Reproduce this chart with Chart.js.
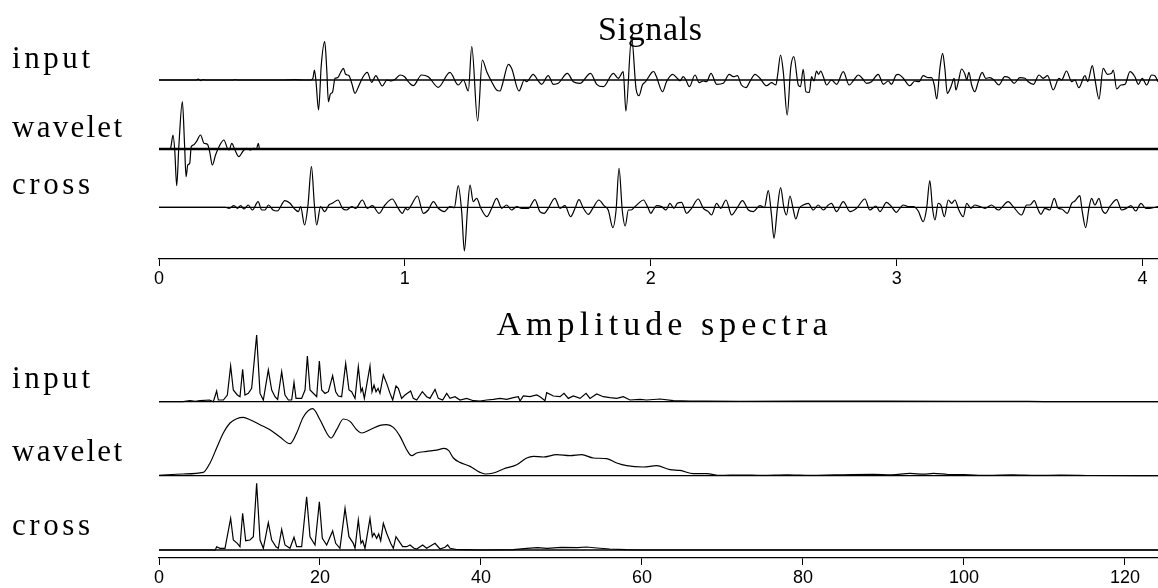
<!DOCTYPE html>
<html><head><meta charset="utf-8">
<script src="https://cdn.jsdelivr.net/npm/chart.js@4.4.1/dist/chart.umd.min.js"></script>
<style>
html,body{margin:0;padding:0;background:#fff;width:1158px;height:588px;overflow:hidden}
canvas{position:absolute;left:0}
#c1{top:0;width:1158px;height:300px}
#c2{top:300px;width:1158px;height:288px}
</style></head><body>
<canvas id="c1" width="1158" height="300"></canvas>
<canvas id="c2" width="1158" height="288"></canvas>
<script>
// ---------- DATA ----------
const traceNames = ['input', 'wavelet', 'cross'];
const panelTitles = ['Signals', 'Amplitude spectra'];
const signalTicks = [0, 1, 2, 3, 4];
const spectrumTicks = [0, 20, 40, 60, 80, 100, 120];
const timeMax = 4.063;
const freqMax = 124.1;

// time (s), amplitude
const signalInput = [[0,0],[0.15,0],[0.16,0.8],[0.17,-0.6],[0.18,0.5],[0.19,0],[0.3,0],[0.31,0.5],[0.32,0],[0.5,0],[0.55,0.4],[0.6,0],[0.617,0],[0.626,1.7],[0.632,10],[0.638,0],[0.649,-30],[0.660,15],[0.674,38.3],[0.682,11.7],[0.689,-21.7],[0.697,-14],[0.706,-12],[0.716,1.7],[0.727,2.3],[0.739,7.7],[0.750,11.7],[0.759,5.7],[0.773,4.3],[0.784,-3.3],[0.797,-13.3],[0.813,-5.7],[0.830,3.3],[0.847,7.7],[0.865,-2.3],[0.882,4.3],[0.895,-1],[0.908,-6],[0.927,0],[0.945,-1],[0.962,1],[0.981,5],[0.999,3.3],[1.014,-1.7],[1.034,-5.7],[1.068,5],[1.095,3.3],[1.136,-7.3],[1.183,7.7],[1.217,-5],[1.238,0],[1.258,-11],[1.272,33.3],[1.296,-41],[1.315,20],[1.333,8.3],[1.353,-1.7],[1.373,-10],[1.387,-11],[1.398,-3.3],[1.421,15.7],[1.434,11.7],[1.464,-11],[1.486,0],[1.495,-1.7],[1.522,5.7],[1.540,0],[1.556,-4.3],[1.583,4.3],[1.604,-4.3],[1.624,-3.3],[1.661,6.7],[1.685,-1.7],[1.712,-3.3],[1.755,6.7],[1.780,-4.3],[1.807,-6.7],[1.848,6.7],[1.868,1.7],[1.888,8.3],[1.899,-31],[1.922,43],[1.940,-8.3],[1.952,-15.7],[1.966,-5],[1.979,-1.7],[2.004,7.5],[2.012,8.5],[2.022,4],[2.048,-11.7],[2.064,-1.7],[2.089,5.7],[2.108,1.7],[2.119,-1],[2.132,3.3],[2.143,0],[2.157,-6.7],[2.180,5],[2.197,-2.7],[2.214,-1],[2.227,-1.7],[2.245,6.7],[2.268,-4.3],[2.295,-3.3],[2.319,5.7],[2.336,3.3],[2.352,4.3],[2.369,-5],[2.387,-7.7],[2.403,-1.7],[2.424,5.7],[2.444,1.7],[2.471,-5.7],[2.491,-2.7],[2.509,-5],[2.516,5],[2.528,25],[2.539,8.3],[2.555,-35],[2.569,11.7],[2.582,23.3],[2.600,-5],[2.609,-6.7],[2.620,10.7],[2.631,-11.7],[2.645,-12.3],[2.654,3.3],[2.664,-1],[2.674,9],[2.683,5.7],[2.691,9],[2.702,3.3],[2.715,-5],[2.735,0],[2.756,-4.3],[2.783,8.3],[2.807,-5],[2.826,0],[2.844,5],[2.860,1.7],[2.878,-3.3],[2.898,-1.7],[2.925,5.7],[2.946,-4.3],[2.966,-1],[2.979,-4.3],[2.998,5],[3.007,5.7],[3.027,1.7],[3.054,-5.7],[3.074,-1],[3.091,-1.7],[3.108,4.3],[3.129,2.3],[3.142,2.3],[3.153,-5],[3.163,-19],[3.176,11.7],[3.187,26.7],[3.196,11.7],[3.206,-13.3],[3.221,-6.7],[3.234,1.7],[3.241,-10],[3.251,-1.7],[3.264,11],[3.278,5.7],[3.285,0],[3.294,7.7],[3.305,-5],[3.318,-11.7],[3.332,-1.7],[3.348,7.7],[3.362,1.7],[3.379,2.3],[3.396,0],[3.416,-5],[3.440,3.3],[3.457,2.3],[3.478,-3.3],[3.501,2.3],[3.522,1.7],[3.535,-1.7],[3.556,-4.3],[3.579,5],[3.596,1.7],[3.614,4.3],[3.637,-10],[3.660,1.7],[3.671,0],[3.691,9],[3.712,-1.7],[3.725,0],[3.741,-7.7],[3.766,4.3],[3.777,-1.7],[3.796,14.3],[3.806,1.7],[3.823,-19],[3.840,11.7],[3.857,5.7],[3.874,6.7],[3.881,10],[3.895,-9],[3.912,-5],[3.929,-4.3],[3.949,8.3],[3.969,3.3],[3.983,-4.3],[3.999,1.7],[4.017,-5],[4.037,5],[4.050,4.3],[4.063,-1.7]];

const signalWavelet = [[0,0],[0.041,0],[0.047,0.7],[0.057,14],[0.064,-1],[0.072,-36.7],[0.081,4],[0.095,47.3],[0.104,4],[0.110,-27.7],[0.117,-16],[0.125,-14.3],[0.131,2.3],[0.140,4],[0.152,7.3],[0.169,14],[0.183,5.7],[0.197,4.7],[0.206,-2.7],[0.217,-16],[0.230,-6],[0.244,2.3],[0.264,9],[0.278,0.7],[0.285,-1],[0.296,5.7],[0.309,-1],[0.325,-7.7],[0.342,-2],[0.355,0.7],[0.373,-1],[0.386,0.7],[0.396,0],[0.404,5.7],[0.409,0],[4.063,0]];

const signalCross = [[0,0],[0.27,0],[0.285,-1],[0.305,1.7],[0.319,-1],[0.332,1.7],[0.346,-1.7],[0.363,2.3],[0.380,-2.7],[0.403,5.7],[0.418,-2.7],[0.431,-2.7],[0.445,2.3],[0.464,-2.7],[0.481,-3.7],[0.512,6.7],[0.533,4],[0.549,-1],[0.567,-4.3],[0.576,0.7],[0.592,-17.7],[0.606,2.3],[0.620,40.7],[0.632,2.3],[0.641,-17.7],[0.657,0.7],[0.674,-4.3],[0.691,2.3],[0.705,4],[0.728,7.3],[0.746,-1],[0.762,-2.7],[0.784,0.7],[0.800,-1],[0.827,7.3],[0.847,-1],[0.868,1.7],[0.895,-6],[0.919,2.3],[0.949,8.3],[0.969,0.7],[0.990,-6],[1.003,-1],[1.011,-2.7],[1.028,3],[1.051,11.3],[1.075,-6],[1.095,-2.7],[1.116,5.7],[1.136,-1],[1.160,-4.3],[1.183,0.7],[1.201,-0.3],[1.217,21.7],[1.231,-4.3],[1.242,-43.7],[1.255,-1],[1.265,22.3],[1.278,5.7],[1.292,9],[1.309,-1],[1.333,-9.3],[1.353,-1],[1.373,9],[1.394,-1],[1.414,2.3],[1.434,-2.7],[1.455,0.7],[1.475,-1],[1.502,-1],[1.529,7.7],[1.549,-4.3],[1.567,-6],[1.583,-1],[1.610,9],[1.631,-1],[1.651,1.7],[1.674,-9.3],[1.692,-1],[1.708,7.7],[1.726,-1],[1.746,-7],[1.766,-0.3],[1.789,7.3],[1.810,1.7],[1.827,-2.7],[1.846,-20.3],[1.859,-2.7],[1.871,39],[1.884,-2.7],[1.896,-18.7],[1.909,-2.7],[1.920,-2.7],[1.936,0.7],[1.949,3.7],[1.970,7.3],[1.990,-1],[2.000,-6],[2.010,-2.7],[2.024,1.7],[2.044,0.7],[2.062,-2.7],[2.078,4],[2.094,-1],[2.108,4],[2.125,5],[2.146,-6],[2.166,-1],[2.193,8.3],[2.214,-1],[2.234,-4.3],[2.247,-7.7],[2.268,4],[2.284,-1],[2.306,7.3],[2.329,-7.7],[2.352,-0.3],[2.373,6.7],[2.397,-2.7],[2.417,-4.3],[2.444,1.7],[2.462,-0.3],[2.478,16.7],[2.491,-7.7],[2.501,-31],[2.515,-1],[2.528,19.7],[2.542,-1],[2.552,-7.7],[2.566,11.3],[2.580,-2.7],[2.590,-11.7],[2.604,-1],[2.620,2.3],[2.641,4],[2.661,-2.7],[2.681,2.3],[2.702,-2.7],[2.722,2.3],[2.735,4],[2.756,-4.3],[2.783,5.7],[2.810,-4.3],[2.837,-1],[2.871,8.3],[2.891,-2.7],[2.916,1.3],[2.932,-4.3],[2.959,5],[2.979,0.7],[2.999,-5],[3.013,-1],[3.027,2.3],[3.047,0.7],[3.068,0.7],[3.088,-3.7],[3.108,-14.3],[3.122,-1],[3.135,26.7],[3.146,-1],[3.156,-12.7],[3.169,4],[3.180,2.3],[3.194,-9.3],[3.210,7.3],[3.224,4],[3.237,7.3],[3.253,-2.7],[3.271,-9.3],[3.285,4],[3.302,-1],[3.318,2.3],[3.339,0.7],[3.359,-1],[3.386,2.3],[3.413,-2.7],[3.454,5.7],[3.474,0.7],[3.508,-7.7],[3.529,2.3],[3.542,2.3],[3.560,6.7],[3.573,-1],[3.587,-7],[3.603,-1],[3.623,-2.7],[3.641,9],[3.657,-1],[3.671,-1.7],[3.694,-6],[3.712,4],[3.725,6.3],[3.745,11.7],[3.755,-4.3],[3.769,-20.3],[3.782,-1],[3.793,9],[3.806,2.3],[3.823,9],[3.836,-2.7],[3.850,-6],[3.867,0.7],[3.895,7.7],[3.915,-2.7],[3.935,-1],[3.953,1.7],[3.972,-3.7],[3.994,4],[4.013,-1],[4.030,-1],[4.063,0.7]];

// frequency (Hz), amplitude
const spectrumInput = [[0,0],[3.0,0],[3.85,1],[4.5,0.3],[5.1,1],[6.3,1.7],[6.75,0],[7.16,10.7],[7.37,1.7],[8.0,1.7],[8.49,6.7],[8.90,35.7],[9.23,11.7],[9.73,6.7],[10.06,5],[10.39,32.3],[10.68,6.7],[11.10,8.3],[11.51,13.3],[12.13,66.7],[12.55,8.3],[12.96,1.7],[13.58,31.7],[14.0,11.7],[14.41,5],[14.74,2.3],[15.24,30],[15.65,6.7],[16.07,1.7],[16.48,1.7],[16.77,19.3],[17.02,3.3],[17.72,3.3],[18.14,11.7],[18.43,45.7],[18.76,11.7],[19.38,6.7],[19.59,5],[19.92,40.7],[20.21,11.7],[20.62,8.3],[21.04,10],[21.57,26],[21.95,10],[22.28,5.7],[22.69,5],[23.19,38.3],[23.60,11.7],[23.93,10],[24.35,3.3],[24.76,35],[25.09,10],[25.26,13.3],[25.51,3.3],[26.21,35.7],[26.46,10],[26.71,16.7],[26.96,10],[27.21,13.3],[27.45,8.3],[27.87,26.7],[28.28,18.3],[28.70,8.3],[29.03,1.7],[29.44,15.7],[29.73,13.3],[30.14,3.3],[30.56,6.7],[31.26,10.7],[31.59,3.3],[32.01,1.7],[32.71,10],[33.25,5],[33.66,3.3],[34.29,12.3],[34.70,3.3],[35.24,1.7],[35.74,8.3],[36.15,3.3],[36.77,5],[37.39,1.7],[38.22,3.3],[39.05,1],[39.88,0.7],[40.71,1.7],[41.54,2.3],[42.36,3.3],[43.19,2.3],[44.02,4],[44.64,5],[44.85,0.7],[45.26,5.7],[46.09,5],[46.92,6.7],[47.33,5],[47.95,1],[48.16,9],[48.99,5.7],[49.82,5],[50.31,8.3],[50.85,3.3],[51.47,5.7],[52.30,3.3],[53.05,8.3],[53.54,3.3],[54.37,7.7],[55.20,5],[56.03,4],[56.86,3.3],[57.68,5],[58.51,1.7],[59.75,2.3],[60.58,1.7],[62.24,2.7],[63.90,1],[65.97,0.7],[68.04,0.7],[72.18,0.3],[80,0.5],[90,0.5],[100,0.4],[108,0.3],[110,0],[124.1,0]];

const spectrumWavelet = [[0,0.3],[3.0,1.7],[5.5,3.3],[6.34,12.7],[7.16,27.7],[7.99,42.7],[8.82,52.7],[9.65,57],[10.48,58.3],[11.30,56],[12.55,51],[13.79,46],[15.03,38.7],[16.27,32],[17.10,42.7],[17.93,58.7],[19.09,67],[20.0,56],[20.83,42.7],[21.37,37.7],[22.07,46],[22.90,56.7],[23.73,54.3],[24.55,46],[25.18,42.7],[26.21,46],[27.45,50.3],[28.28,51],[29.11,48.3],[29.94,39.3],[30.77,26],[31.39,20],[32.01,22.7],[33.25,24.3],[34.49,25.5],[35.4,27.3],[36.0,25],[36.57,17.7],[37.39,13.3],[38.64,9.3],[39.88,3.3],[40.50,1.7],[41.54,2.7],[42.78,6.7],[44.43,11],[45.68,17.7],[46.50,19.3],[47.75,18.7],[49.40,21],[51.06,20],[52.51,21],[53.96,17.7],[55.61,17],[56.86,12.7],[58.10,10],[60.17,8.7],[61.82,10],[63.48,6],[64.72,5.3],[66.38,2],[68.04,2],[69.69,0.3],[72.18,0.7],[75,0.3],[78,0.8],[81,0.3],[84,0.8],[88.7,1.3],[91,0.8],[93.3,2.3],[95,1.5],[96.2,2.3],[98,1.2],[100,1],[103,0.4],[106,0.8],[109,0.3],[112,0.6],[116,0.2],[124.1,0]];

const spectrumCross = [[0,0],[7.0,0],[7.16,3.3],[7.58,1.7],[8.2,1.7],[8.90,31.7],[9.23,10],[9.73,6.7],[10.06,3.3],[10.39,36.7],[10.77,9.3],[11.30,10],[11.72,13.3],[12.13,66.7],[12.55,10],[12.96,1.7],[13.58,27.3],[14.0,10],[14.53,3.3],[14.82,1.7],[15.24,20.7],[15.65,5],[16.27,1.7],[16.77,12.7],[17.10,3.3],[17.72,3.3],[18.34,53.3],[18.76,13.3],[19.38,5],[19.92,48.3],[20.29,11.7],[20.83,5],[21.57,19],[21.95,6.7],[22.48,1.7],[23.11,41.7],[23.60,13.3],[24.14,6.7],[24.35,1.7],[24.76,30],[25.09,6.7],[25.30,9.3],[25.59,1.7],[26.21,31.7],[26.50,13.3],[26.71,16.7],[27.04,11.7],[27.29,16],[27.54,9.3],[27.87,26.7],[28.28,16.7],[28.78,6.7],[29.11,1.7],[29.44,13.3],[29.85,8.3],[30.27,3.3],[30.77,3.3],[31.18,5],[31.68,1.7],[32.01,1],[32.75,5],[33.25,1.7],[34.29,6.7],[34.91,1],[35.53,2.7],[35.86,5],[36.15,1.7],[37,0.5],[38,0.3],[40,0],[44,0.3],[45.7,1.7],[47,2.3],[48.2,1.7],[50,2.7],[52,2.3],[53.1,3],[54.4,2],[56,1],[58,0.3],[60,0],[124.1,0]];

// ---------- RENDERING ----------
const INK = '#000';
function pts(arr){ return arr.map(p => ({x: p[0], y: p[1]})); }

function drawSpaced(ctx, text, x, y, targetWidth, align){
  const chars = [...text];
  const widths = chars.map(c => ctx.measureText(c).width);
  const sum = widths.reduce((a,b)=>a+b,0);
  const gap = chars.length > 1 ? (targetWidth - sum) / (chars.length - 1) : 0;
  let cx = align === 'center' ? x - targetWidth/2 : x;
  chars.forEach((c,i) => { ctx.fillText(c, cx, y); cx += widths[i] + gap; });
}

const decor = {
  id: 'decor',
  beforeDatasetsDraw(chart, args, opts){
    const ctx = chart.ctx, a = chart.chartArea;
    ctx.save();
    ctx.strokeStyle = INK;
    opts.baselines.forEach(b => {
      const y = chart.scales[b.axis].getPixelForValue(0);
      ctx.lineWidth = b.width;
      ctx.beginPath(); ctx.moveTo(a.left, y); ctx.lineTo(chart.width, y); ctx.stroke();
    });
    ctx.restore();
  },
  afterDraw(chart, args, opts){
    const ctx = chart.ctx;
    ctx.save();
    ctx.fillStyle = INK;
    ctx.textBaseline = 'alphabetic';
    ctx.textAlign = 'left';
    ctx.font = opts.labelFont;
    opts.labels.forEach(l => {
      const y = chart.scales[l.axis].getPixelForValue(0) + l.dy;
      drawSpaced(ctx, l.text, 12, y, l.w, 'left');
    });
    ctx.font = opts.titleFont;
    drawSpaced(ctx, opts.title.text, opts.title.x, opts.title.y, opts.title.w, 'center');
    ctx.restore();
  }
};

function xScale(max, ticks, height){
  return {
    type: 'linear', position: 'bottom', min: 0, max: max,
    afterBuildTicks: s => { s.ticks = ticks.map(v => ({value: v})); },
    afterFit: s => { s.height = height; },
    ticks: { color: INK, font: {family: 'Liberation Sans', size: 18}, padding: 2, maxRotation: 0, autoSkip: false,
             callback: v => String(v) },
    grid: { drawOnChartArea: false, drawTicks: true, tickLength: 7, color: INK, lineWidth: 1 },
    border: { display: true, color: INK, width: 1.3 }
  };
}
function yScale(min, max){
  return { type: 'linear', display: false, min: min, max: max };
}
function ds(arr, axis, smooth){
  return { data: pts(arr), yAxisID: axis, borderColor: INK, borderWidth: 1.2, pointRadius: 0,
           fill: false, clip: false, cubicInterpolationMode: smooth ? 'monotone' : 'default', tension: 0 };
}

const base = {
  responsive: false, animation: false, devicePixelRatio: 1,
  layout: { padding: { left: 159, right: 0, top: 0, bottom: 0 } },
};

new Chart(document.getElementById('c1'), {
  type: 'line',
  data: { datasets: [
    ds(signalInput, 'yIn', true),
    ds(signalWavelet, 'yWav', true),
    ds(signalCross, 'yCr', true)
  ]},
  options: Object.assign({}, base, {
    scales: {
      x: xScale(timeMax, signalTicks, 41),
      yIn: yScale(-179, 80),
      yWav: yScale(-110, 149),
      yCr: yScale(-51.7, 207.3)
    },
    plugins: {
      legend: {display: false}, tooltip: {enabled: false},
      decor: {
        baselines: [{axis:'yIn', width:1.3},{axis:'yWav', width:2.4},{axis:'yCr', width:1.3}],
        labelFont: '31px "Liberation Serif"',
        labels: [
          {text: traceNames[0], axis:'yIn', dy:-12, w:78},
          {text: traceNames[1], axis:'yWav', dy:-12, w:110},
          {text: traceNames[2], axis:'yCr', dy:-13, w:78}
        ],
        titleFont: '34px "Liberation Serif"',
        title: {text: panelTitles[0], x: 650, y: 40, w: 104}
      }
    }
  }),
  plugins: [decor]
});

new Chart(document.getElementById('c2'), {
  type: 'line',
  data: { datasets: [
    ds(spectrumInput, 'yIn', false),
    ds(spectrumWavelet, 'yWav', true),
    ds(spectrumCross, 'yCr', false)
  ]},
  options: Object.assign({}, base, {
    scales: {
      x: xScale(freqMax, spectrumTicks, 30),
      yIn: yScale(-156.3, 101.7),
      yWav: yScale(-82.3, 175.7),
      yCr: yScale(-8, 250)
    },
    plugins: {
      legend: {display: false}, tooltip: {enabled: false},
      decor: {
        baselines: [{axis:'yIn', width:1.3},{axis:'yWav', width:1.3},{axis:'yCr', width:1.3}],
        labelFont: '31px "Liberation Serif"',
        labels: [
          {text: traceNames[0], axis:'yIn', dy:-14, w:78},
          {text: traceNames[1], axis:'yWav', dy:-15, w:110},
          {text: traceNames[2], axis:'yCr', dy:-15, w:78}
        ],
        titleFont: '34px "Liberation Serif"',
        title: {text: panelTitles[1], x: 662, y: 35, w: 331}
      }
    }
  }),
  plugins: [decor]
});
</script>
</body></html>
